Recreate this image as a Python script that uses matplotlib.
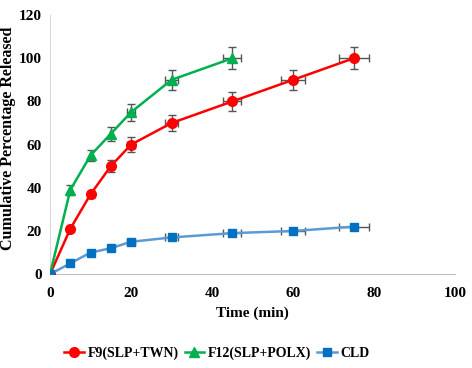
import numpy as np
import matplotlib
matplotlib.use('Agg')
import matplotlib.pyplot as plt
from matplotlib.lines import Line2D

plt.rcParams['font.family'] = 'Liberation Serif'
plt.rcParams['font.weight'] = 'bold'

t_f9 = [0, 5, 10, 15, 20, 30, 45, 60, 75]
f9 = [0, 21, 37, 50, 60, 70, 80, 90, 100]
f9_yerr = [0.5, 1.5, 1.5, 2.7, 3.5, 3.6, 4.2, 4.6, 5.0]
f9_xerr = [0, 0, 0, 0, 1.0, 1.5, 2.2, 3.0, 3.7]

t_f12 = [0, 5, 10, 15, 20, 30, 45]
f12 = [0, 39, 55, 65, 75, 90, 100]
f12_yerr = [0.5, 2.3, 2.4, 3.2, 3.9, 4.6, 5.0]
f12_xerr = [0, 0, 0, 0, 1.0, 1.5, 2.2]

t_cld = [0, 5, 10, 15, 20, 30, 45, 60, 75]
cld = [0, 5, 10, 12, 15, 17, 19, 20, 22]
cld_yerr = [0.3, 0.5, 0.5, 0.8, 0.8, 0.8, 0.8, 0.8, 0.8]
cld_xerr = [0, 0, 0, 0, 1.0, 1.5, 2.2, 3.0, 3.7]

fig = plt.figure(figsize=(4.72, 3.68), dpi=100)
ax = fig.add_axes([0.106, 0.255, 0.858, 0.704])

ekw = dict(ecolor='#555555', elinewidth=1.0, capsize=3, capthick=1.0)
ax.errorbar(t_f9, f9, yerr=f9_yerr, xerr=f9_xerr, color='#FF0000', marker='o',
            markersize=7, linewidth=1.8, zorder=3, **ekw)
ax.errorbar(t_f12, f12, yerr=f12_yerr, xerr=f12_xerr, color='#00B050', marker='^',
            markersize=7, linewidth=1.8, zorder=3, **ekw)
ax.errorbar(t_cld, cld, yerr=cld_yerr, xerr=cld_xerr, color='#5B9BD5', marker='s',
            markerfacecolor='#0070C0', markeredgecolor='#0070C0',
            markersize=6, linewidth=1.8, zorder=3, **ekw)

ax.set_xlim(0, 100)
ax.set_ylim(0, 120)
ax.set_xticks(range(0, 101, 20))
ax.set_yticks(range(0, 121, 20))
ax.tick_params(axis='y', length=0, labelsize=11, pad=6)
ax.tick_params(axis='x', length=0, labelsize=11, pad=9)
for lab in ax.get_xticklabels() + ax.get_yticklabels():
    lab.set_fontweight('bold')
for s in ['top', 'right']:
    ax.spines[s].set_visible(False)
ax.spines['left'].set_color('#D9D9D9')
ax.spines['bottom'].set_color('#BFBFBF')

ax.set_xlabel('Time (min)', fontsize=11, fontweight='bold', labelpad=5)
ax.set_ylabel('Cumulative Percentage Released', fontsize=11.5, fontweight='bold')
ax.yaxis.set_label_coords(-0.083, 0.525)

handles = [
    Line2D([], [], color='#FF0000', marker='o', markersize=7, linewidth=1.8),
    Line2D([], [], color='#00B050', marker='^', markersize=7, linewidth=1.8),
    Line2D([], [], color='#5B9BD5', marker='s', markersize=6, linewidth=1.8,
           markerfacecolor='#0070C0', markeredgecolor='#0070C0'),
]
labels = ['F9(SLP+TWN)', 'F12(SLP+POLX)', 'CLD']
fig.legend(handles, labels, loc='center', bbox_to_anchor=(0.46, 0.04), ncol=3,
           frameon=False, fontsize=10, handlelength=1.4, handletextpad=0.3,
           columnspacing=0.4)

fig.savefig('out.png', dpi=100)
